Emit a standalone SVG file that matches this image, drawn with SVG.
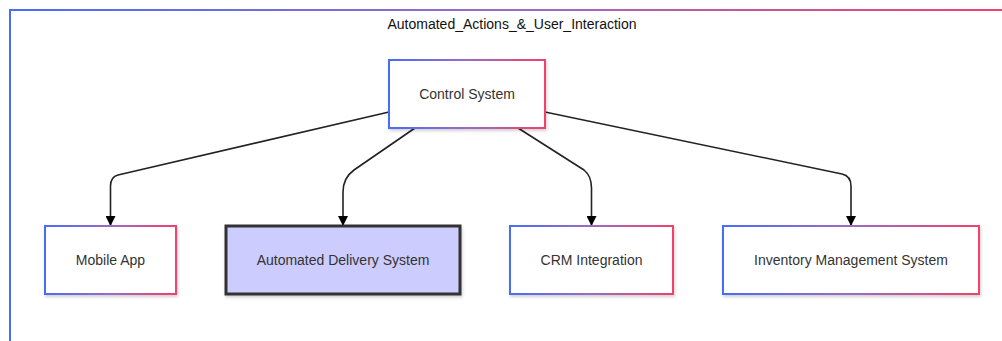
<svg xmlns="http://www.w3.org/2000/svg" width="1002" height="341" viewBox="0 0 1002 341">
<defs>
<linearGradient id="g" x1="0" y1="0" x2="1" y2="0">
<stop offset="0" stop-color="#4a6cf7"/>
<stop offset="0.5" stop-color="#9a6cc4"/>
<stop offset="1" stop-color="#f43f6b"/>
</linearGradient>
<filter id="sh" x="-10%" y="-10%" width="130%" height="140%">
<feDropShadow dx="1" dy="2" stdDeviation="1.5" flood-color="#000" flood-opacity="0.18"/>
</filter>
<marker id="arr" viewBox="0 0 10 10" refX="10" refY="5" markerWidth="10" markerHeight="10" markerUnits="userSpaceOnUse" orient="auto">
<path d="M0,0 L10,5 L0,10 z" fill="#000"/>
</marker>
</defs>
<style>
.node{fill:#fff;stroke:url(#g);stroke-width:2;filter:url(#sh);}
.hl{fill:#ccccff;stroke:#333;stroke-width:3;filter:url(#sh);}
.lbl{font-family:"Liberation Sans",Arial,sans-serif;font-size:14px;fill:#333;text-anchor:middle;dominant-baseline:central;}
.edge{fill:none;stroke:#222;stroke-width:1.6;marker-end:url(#arr);}
</style>
<rect width="1002" height="341" fill="#fff"/>
<g id="cluster">
<rect x="10" y="10" width="1010" height="350" fill="none" stroke="url(#g)" stroke-width="2"/>
<text class="lbl" x="512" y="24" style="fill:#111">Automated_Actions_&amp;_User_Interaction</text>
</g>
<g id="edges">
<path class="edge" d="M389,112 L118,175 Q110.5,177 110.5,186 L110.5,226"/>
<path class="edge" d="M415,128 L354,170 Q343,178 343,192 L343,226"/>
<path class="edge" d="M518,128 L584,170 Q591.5,176 591.5,188 L591.5,226"/>
<path class="edge" d="M545,112 L842,174 Q851,176 851,186 L851,226"/>
</g>
<g id="control-system">
<rect class="node" x="389" y="60" width="156" height="68"/>
<text class="lbl" x="467" y="94">Control System</text>
</g>
<g id="mobile-app">
<rect class="node" x="45" y="226" width="131" height="68"/>
<text class="lbl" x="110.5" y="260">Mobile App</text>
</g>
<g id="automated-delivery">
<rect class="hl" x="226" y="226" width="234" height="68"/>
<text class="lbl" x="343" y="260">Automated Delivery System</text>
</g>
<g id="crm-integration">
<rect class="node" x="510" y="226" width="163" height="68"/>
<text class="lbl" x="591.5" y="260">CRM Integration</text>
</g>
<g id="inventory-management">
<rect class="node" x="723" y="226" width="256" height="68"/>
<text class="lbl" x="851" y="260">Inventory Management System</text>
</g>
</svg>
